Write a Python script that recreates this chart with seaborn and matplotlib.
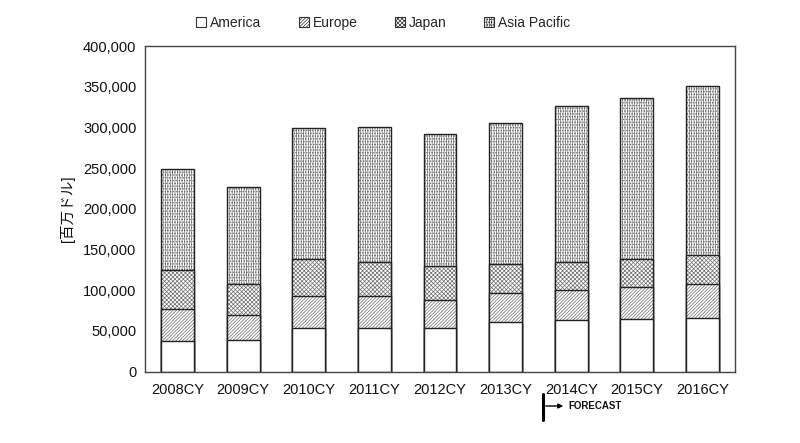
import numpy as np
import pandas as pd
import matplotlib
matplotlib.use("Agg")
import matplotlib.pyplot as plt
import matplotlib.patches as mpatches
from matplotlib.ticker import FuncFormatter, FixedLocator
import seaborn as sns

years = ["2008CY", "2009CY", "2010CY", "2011CY", "2012CY", "2013CY", "2014CY", "2015CY", "2016CY"]
america = [37700, 38500, 53300, 54000, 53700, 61400, 63100, 64300, 66300]
europe = [38900, 30700, 39300, 39000, 34000, 35200, 37600, 39300, 41000]
japan = [48300, 38500, 45800, 42100, 42100, 35300, 34400, 34400, 36400]
asia_pacific = [124000, 118800, 160500, 165000, 162100, 173900, 191200, 198500, 207500]
series_names = ["America", "Europe", "Japan", "Asia Pacific"]
hatches = ["", "//////////", "xxxxxxxx", "|||||||......"]

sns.set_theme(style="white")
plt.rcParams["font.family"] = ["Liberation Sans", "Noto Sans CJK JP", "DejaVu Sans"]
plt.rcParams["hatch.linewidth"] = 0.5

df = pd.DataFrame({"year": years, "America": america, "Europe": europe,
                   "Japan": japan, "Asia Pacific": asia_pacific})
cum = df[series_names].cumsum(axis=1)

fig = plt.figure(figsize=(8.0, 4.43), dpi=100)
ax = fig.add_axes([0.181, 0.161, 0.738, 0.735])

# draw cumulative totals from the top layer down so lower layers cover upper ones
for name, h in reversed(list(zip(series_names, hatches))):
    d = pd.DataFrame({"year": years, "val": cum[name].values})
    # hatched fill in grey
    sns.barplot(data=d, x="year", y="val", ax=ax, color="white", width=0.5,
                edgecolor="#6e6e6e", linewidth=0, hatch=h, saturation=1)
    # black outline on top
    sns.barplot(data=d, x="year", y="val", ax=ax, color="white", width=0.5,
                fill=False, edgecolor="#222222", linewidth=1.0, saturation=1)

ax.set_ylim(0, 400000)
ax.set_xlim(-0.5, len(years) - 0.5)
ax.yaxis.set_major_locator(FixedLocator(np.arange(0, 400001, 50000)))
ax.yaxis.set_major_formatter(FuncFormatter(lambda v, p: f"{int(v):,}"))
ax.set_xlabel("")
ax.set_ylabel("[百万ドル]", fontsize=10.5, labelpad=6, color="#111111")

for s in ax.spines.values():
    s.set_color("#444444")
    s.set_linewidth(1.0)
    s.set_visible(True)

ax.tick_params(axis="y", direction="in", length=4, width=0.8, color="#777777",
               labelsize=10.5, labelcolor="#111111", pad=6)
ax.tick_params(axis="x", which="major", length=0, labelsize=10.5, labelcolor="#111111", pad=8)
ax.set_xticks(np.arange(0.5, len(years) - 0.5, 1.0), minor=True)
ax.tick_params(axis="x", which="minor", direction="in", length=4, width=0.8, color="#777777")

handles = [mpatches.Patch(facecolor="white", edgecolor="#333333", hatch=h, linewidth=0.8, label=n)
           for n, h in zip(series_names, hatches)]
fig.legend(handles=handles, loc="center", bbox_to_anchor=(0.479, 0.948), ncol=4, frameon=False,
           fontsize=10, handlelength=0.7, handleheight=0.7, handletextpad=0.3,
           columnspacing=2.7)

# forecast marker below the 2014 bar
fig.add_artist(plt.Line2D([543 / 800, 543 / 800], [1 - 394 / 443, 1 - 420 / 443],
                          color="black", linewidth=2.2, transform=fig.transFigure))
fig.add_artist(mpatches.FancyArrowPatch((543 / 800, 1 - 406 / 443), (566 / 800, 1 - 406 / 443),
                                        arrowstyle="-|>", mutation_scale=7, color="black",
                                        linewidth=1.0, transform=fig.transFigure))
fig.text(568 / 800, 1 - 406 / 443, "FORECAST", fontsize=7, fontweight="bold",
         va="center", ha="left", color="#111111")

fig.savefig("out.png", dpi=100)
